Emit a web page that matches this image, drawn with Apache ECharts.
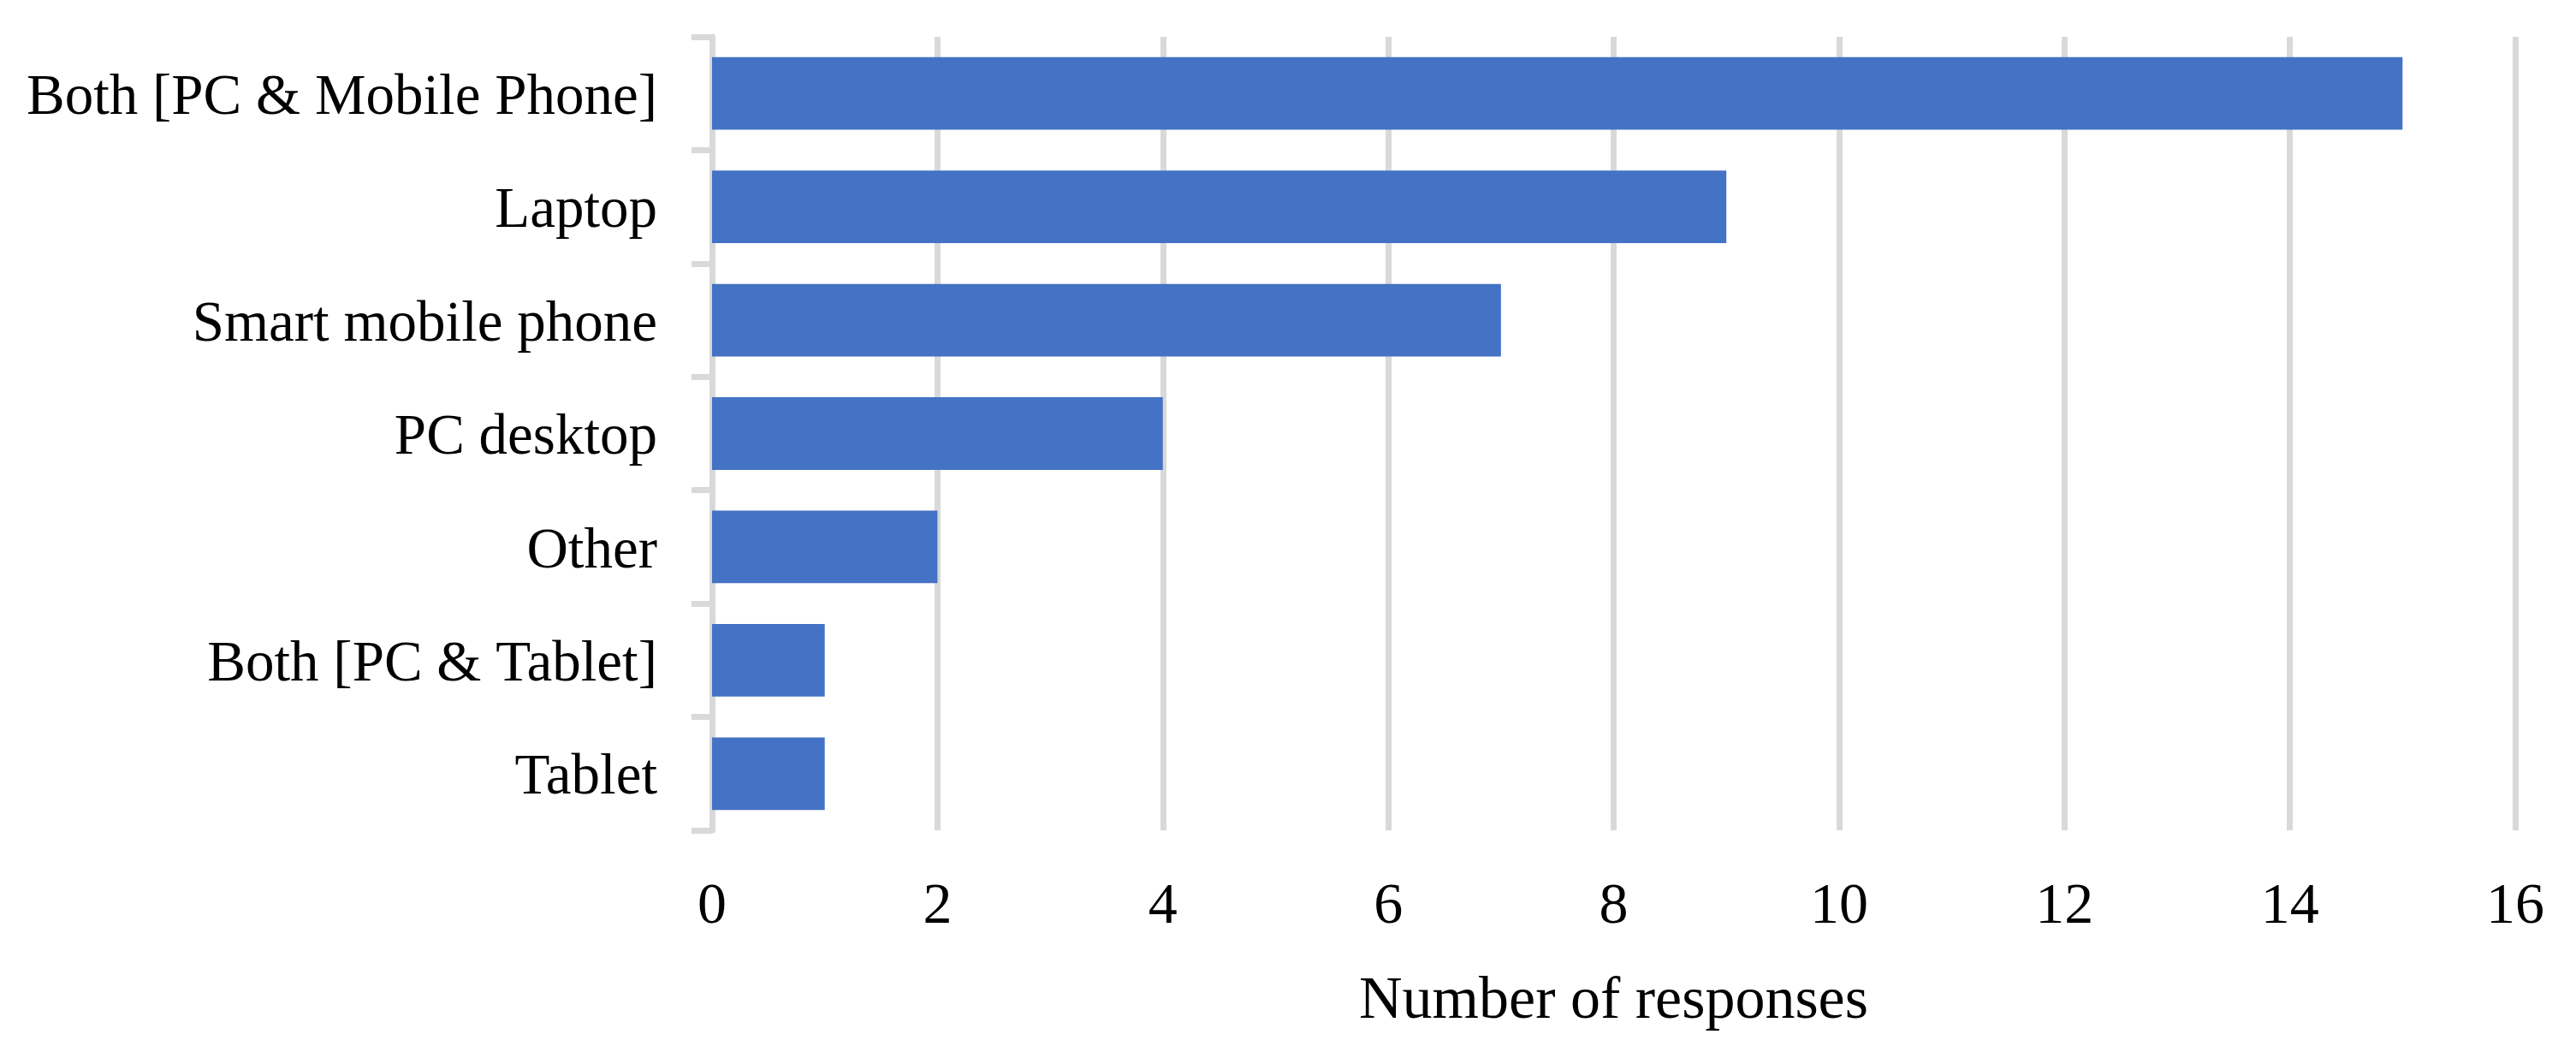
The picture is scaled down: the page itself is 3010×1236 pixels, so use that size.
<!DOCTYPE html>
<html>
<head>
<meta charset="utf-8">
<script src="https://cdn.jsdelivr.net/npm/echarts@6/dist/echarts.min.js"></script>
<style>
html,body{margin:0;padding:0;background:#fff;}
#chart{width:3010px;height:1236px;}
</style>
</head>
<body>
<div id="chart"></div>
<script>
const categories = ["Both [PC & Mobile Phone]", "Laptop", "Smart mobile phone", "PC desktop", "Other", "Both [PC & Tablet]", "Tablet"];
const responses = [15, 9, 7, 4, 2, 1, 1];
const xTicks = { min: 0, max: 16, interval: 2 };
const xAxisName = "Number of responses";

const FONT = '"Liberation Serif", "Times New Roman", serif';
const chart = echarts.init(document.getElementById('chart'), null, { renderer: 'canvas' });
chart.setOption({
  animation: false,
  backgroundColor: '#ffffff',
  grid: { left: 832, right: 71, top: 43, bottom: 266, containLabel: false },
  xAxis: {
    type: 'value',
    min: xTicks.min, max: xTicks.max, interval: xTicks.interval,
    name: xAxisName,
    nameLocation: 'middle',
    nameGap: 166,
    nameTextStyle: { fontFamily: FONT, fontSize: 70, color: '#000', verticalAlign: 'top' },
    axisLine: { show: false },
    axisTick: { show: false },
    axisLabel: { fontFamily: FONT, fontSize: 68, color: '#000', margin: 56 },
    splitLine: { show: true, lineStyle: { color: '#d9d9d9', width: 7 } }
  },
  yAxis: {
    type: 'category',
    data: categories,
    inverse: true,
    axisLine: { show: true, lineStyle: { color: '#d9d9d9', width: 7 } },
    axisTick: { show: true, length: 24, lineStyle: { color: '#d9d9d9', width: 7 } },
    axisLabel: {
      fontFamily: FONT, fontSize: 67, color: '#000', margin: 64,
      formatter: function (v) { return '{a|' + v + '}'; },
      rich: { a: { fontFamily: FONT, fontSize: 67, color: '#000', padding: [12, 0, 0, 0] } }
    },
    splitLine: { show: false }
  },
  series: [{
    type: 'bar',
    data: responses,
    barCategoryGap: '36%',
    itemStyle: { color: '#4472C4' }
  }]
});
</script>
</body>
</html>
